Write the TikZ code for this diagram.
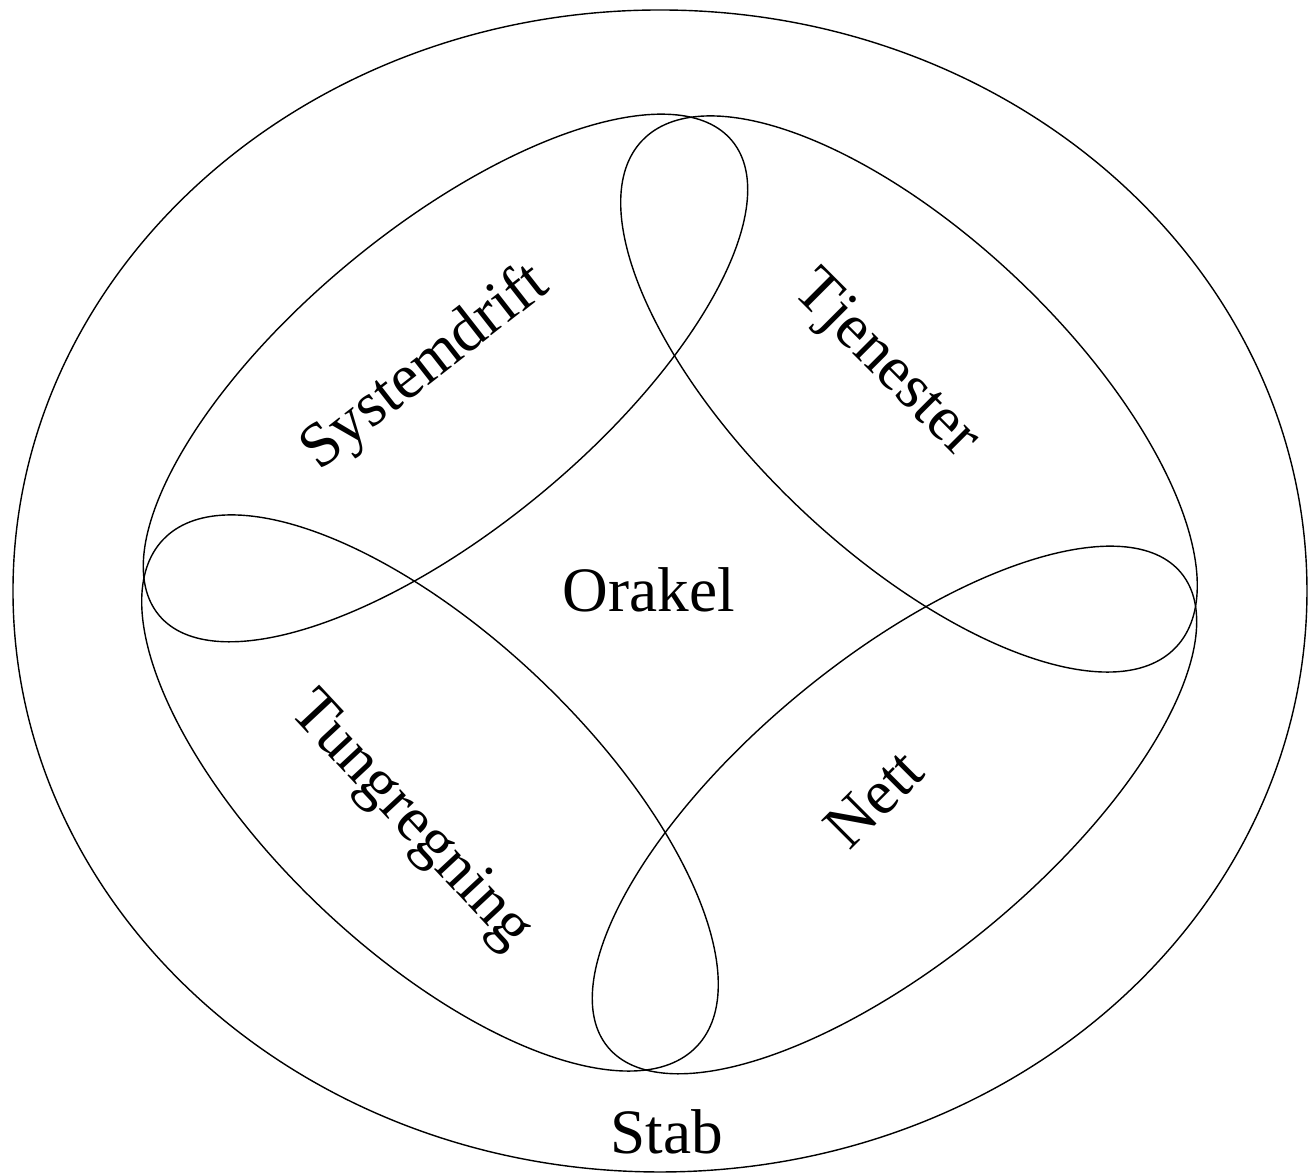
\documentclass[tikz,border=0pt]{standalone}
\usepackage{fontspec}
\setmainfont{Liberation Serif}
\begin{document}
\begin{tikzpicture}[every node/.style={font=\fontsize{18}{22}\selectfont},
  petal/.style={draw=black,thin},
  lbl/.style={inner sep=2pt}]
  \useasboundingbox (-6.60,-5.85) rectangle (6.49,5.91);
  % outer ring
  \draw[petal] (0,0) ellipse (6.47 and 5.81);
  % four petals
  \draw[petal,shift={(-2.145,2.13)},rotate=39.6] (0,0) ellipse (3.72 and 1.50);
  \draw[petal,shift={(2.345,-2.19)},rotate=39.6] (0,0) ellipse (3.72 and 1.50);
  \draw[petal,shift={(2.49,1.97)},rotate=-43.5] (0,0) ellipse (3.68 and 1.58);
  \draw[petal,shift={(-2.30,-2.02)},rotate=-43.5] (0,0) ellipse (3.68 and 1.58);
  % labels
  \node[lbl,rotate=38] (sys) at (-2.34,2.23) {Systemdrift};
  \node[lbl,rotate=-45] (tje) at (2.25,2.25) {Tjenester};
  \node[lbl] (ora) at (-0.11,0.01) {Orakel};
  \node[lbl,rotate=-47] (tun) at (-2.50,-2.31) {Tungregning};
  \node[lbl,rotate=45] (net) at (2.14,-2.08) {Nett};
  \node[lbl,fill=white] (stab) at (0.07,-5.41) {Stab};
\end{tikzpicture}
\end{document}
